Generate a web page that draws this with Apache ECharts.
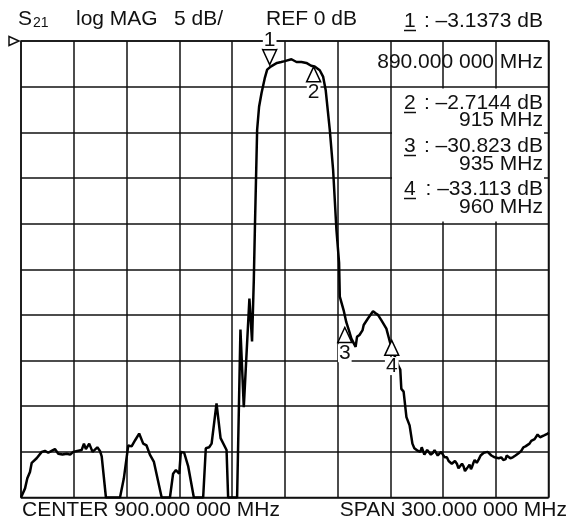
<!DOCTYPE html>
<html>
<head>
<meta charset="utf-8">
<style>
  html, body { margin: 0; padding: 0; background: #fff; }
  #chart { width: 569px; height: 531px; }
</style>
<script src="https://cdn.jsdelivr.net/npm/echarts@6/dist/echarts.min.js"></script>
</head>
<body>
<div id="chart"></div>
<script>
// trace: frequency (MHz) and S21 (dB)
const freqMHz = [
  750, 752.3, 753.6, 755.1, 756.1, 758.9, 761.8, 763.6, 765.5, 767.4, 769.3, 771.2, 773.6, 776.0, 778.0, 779.7,
  782.0, 784.5, 785.8, 786.9, 788.8, 790.7, 793.4, 794.9, 795.9, 798.3, 806.3, 808.5, 811.0, 812.9, 815.0, 817.2,
  819.5, 821.4, 823.3, 825.6, 830.0, 834.7, 836.5, 838.1, 840.0, 840.9, 842.8, 845.1, 848.3, 853.6, 855.1, 857.0,
  858.4, 861.2, 863.5, 864.6, 866.9, 867.8, 872.9, 874.8, 876.7, 879.9, 881.0, 881.4, 882.4, 883.0, 884.3, 885.4,
  886.8, 888.6, 890.0, 892.0, 895.6, 898.0, 900.0, 903.8, 906.7, 909.5, 912.3, 915.0, 917.0, 919.9, 921.8, 923.3,
  925.6, 927.5, 929.4, 930.9, 931.3, 933.5, 935.0, 936.5, 937.9, 940.3, 941.1, 942.5, 944.2, 944.9, 947.3, 950.2,
  951.5, 953.0, 955.0, 957.8, 960.0, 962.5, 964.9, 965.7, 966.3, 967.6, 969.2, 971.0, 972.6, 973.7, 974.8, 975.8,
  977.1, 977.9, 978.6, 979.4, 980.1, 981.0, 982.0, 983.1, 984.3, 985.2, 986.2, 987.0, 987.7, 988.9, 990.0, 991.0,
  992.2, 993.2, 994.2, 995.0, 995.6, 996.8, 997.9, 998.8, 999.8, 1000.8, 1001.7, 1002.5, 1003.2, 1004.0, 1005.1, 1005.9,
  1006.6, 1007.3, 1008.0, 1009.2, 1010.4, 1011.4, 1012.3, 1013.2, 1014.2, 1015.4, 1016.5, 1017.5, 1018.4, 1019.4, 1020.3, 1021.7,
  1023.1, 1024.3, 1025.6, 1026.2, 1026.9, 1028.3, 1029.7, 1031.2, 1032.6, 1033.6, 1034.5, 1035.7, 1036.9, 1038.0, 1039.2, 1040.2,
  1041.1, 1042.1, 1043.0, 1043.8, 1044.5, 1045.2, 1045.9, 1047.5, 1049.6, 1050
]
const s21dB = [
  -50, -49.0, -47.9, -47.2, -46.2, -45.7, -45.0, -44.9, -45.1, -44.9, -44.7, -45.2, -45.3, -45.2, -45.3, -45.0,
  -44.9, -44.8, -44.1, -44.7, -44.1, -45.0, -44.5, -44.9, -45.5, -50, -50, -47.9, -44.3, -44.4, -43.7, -43.0,
  -44.1, -44.3, -45.3, -46.1, -50, -50, -47.4, -47.0, -47.4, -45.0, -45.1, -46.6, -50, -50, -44.6, -44.5,
  -44.1, -39.7, -43.5, -43.6, -44.8, -50, -50, -31.6, -40.1, -28.2, -28.2, -32.9, -26.2, -20.7, -9.7, -7.2,
  -5.7, -4.1, -3.14, -2.8, -2.4, -2.3, -2.2, -2.0, -2.3, -2.3, -2.4, -2.71, -2.8, -3.2, -3.9, -5.4,
  -9.7, -14.1, -20.7, -24.3, -28.0, -29.5, -30.8, -31.7, -32.6, -33.5, -32.4, -32.2, -31.7, -31.1, -30.4, -29.6,
  -29.8, -30.0, -30.6, -31.5, -33.1, -34.5, -35.7, -36.0, -38.1, -38.4, -41.2, -42.1, -44.1, -44.6, -44.4, -44.9,
  -45.0, -44.5, -44.7, -45.3, -45.2, -44.8, -44.9, -45.3, -45.1, -44.8, -44.9, -45.4, -45.2, -45.0, -45.2, -45.6,
  -45.6, -46.0, -45.8, -46.3, -46.2, -46.0, -46.3, -46.8, -46.6, -46.3, -46.6, -47.1, -47.0, -46.7, -46.4, -46.9,
  -46.6, -46.2, -45.9, -46.2, -45.8, -45.4, -45.5, -45.1, -45.3, -45.0, -45.2, -45.4, -45.2, -45.6, -45.5, -45.7,
  -45.6, -45.9, -45.8, -45.4, -45.5, -45.7, -45.6, -45.4, -45.2, -45.0, -44.9, -44.5, -44.4, -44.3, -44.1, -43.8,
  -43.9, -43.6, -43.5, -43.1, -43.2, -43.4, -43.3, -43.2, -43.0, -42.9
]

// markers
const markerFreq = [890, 915, 935, 960]
const markerDb = [-3.1373, -2.7144, -30.823, -33.113]
const markerFreqText = ['890.000 000 MHz', '915 MHz', '935 MHz', '960 MHz']

// header / footer
const headerText = ['log MAG', '5 dB/', 'REF 0 dB']
const footerText = ['CENTER 900.000 000 MHz', 'SPAN 300.000 000 MHz']

const font = "'Liberation Sans', Arial, sans-serif"
const ink = '#111'

const chart = echarts.init(document.getElementById('chart'), null, { renderer: 'canvas' })

const downTri = 'path://M0,0 L14,0 L7,15 Z'
const upTri = 'path://M7,0 L14,15 L0,15 Z'
// small nudges so the triangles sit where the screen draws them
const markerNudge = [[2.5, -12.5], [2.5, 8.5], [-1.5, 12.5], [1.5, 4.5]]

const markerData = markerFreq.map((f, i) => ({
  value: [f, markerDb[i]],
  symbol: i === 0 ? downTri : upTri,
  symbolOffset: markerNudge[i],
  label: {
    position: i === 0 ? 'top' : 'bottom',
    distance: i === 0 ? 0 : 1
  }
}))

const dbText = v => ': \u2013' + Math.abs(v) + ' dB'

const graphics = [
  // white block behind readouts 2..4
  { type: 'rect', z: 1, shape: { x: 392, y: 88.5, width: 152, height: 133 }, style: { fill: '#fff' } },
  // reference level pointer
  { type: 'polygon', z: 10, shape: { points: [[9, 36.5], [19, 41], [9, 45.5]] }, style: { fill: '#fff', stroke: ink, lineWidth: 1.5 } },
  {
    type: 'text', z: 10, x: 18, y: 9,
    style: {
      text: '{s|S}{n|21}',
      rich: {
        s: { fontSize: 21, fontFamily: font, fill: ink, verticalAlign: 'bottom' },
        n: { fontSize: 14, fontFamily: font, fill: ink, verticalAlign: 'bottom', padding: [0, 0, 0, 1] }
      }
    }
  }
]

const headerX = [76, 174, 266]
headerText.forEach((t, i) => {
  graphics.push({
    type: 'text', z: 10, x: headerX[i], y: 19,
    style: { text: t, fontSize: 21, fontFamily: font, fill: ink, verticalAlign: 'middle' }
  })
})

// marker readouts: underlined number on the left, value right aligned
const readY = [[21, 62], [103, 120], [146, 164], [189, 207]]
markerFreq.forEach((f, i) => {
  graphics.push({
    type: 'text', z: 10, x: 404, y: readY[i][0],
    style: { text: String(i + 1), fontSize: 21, fontFamily: font, fill: ink, verticalAlign: 'middle' }
  })
  graphics.push({
    type: 'text', z: 10, x: 543, y: readY[i][0],
    style: { text: dbText(markerDb[i]), fontSize: 21, fontFamily: font, fill: ink, align: 'right', verticalAlign: 'middle' }
  })
  graphics.push({
    type: 'text', z: 10, x: 543, y: readY[i][1],
    style: { text: markerFreqText[i], fontSize: 21, fontFamily: font, fill: ink, align: 'right', verticalAlign: 'middle' }
  })
  graphics.push({
    type: 'line', z: 10,
    shape: { x1: 404, y1: readY[i][0] + 9.5, x2: 416, y2: readY[i][0] + 9.5 },
    style: { stroke: ink, lineWidth: 1.5 }
  })
})

graphics.push({
  type: 'text', z: 10, x: 22, y: 510,
  style: { text: footerText[0], fontSize: 21, fontFamily: font, fill: ink, verticalAlign: 'middle' }
})
graphics.push({
  type: 'text', z: 10, x: 567, y: 510,
  style: { text: footerText[1], fontSize: 21, fontFamily: font, fill: ink, align: 'right', verticalAlign: 'middle' }
})

const option = {
  animation: false,
  backgroundColor: '#fff',
  grid: {
    left: 21, right: 20.5, top: 41, bottom: 33.5,
    show: true, borderColor: ink, borderWidth: 1.5
  },
  xAxis: {
    type: 'value', min: 750, max: 1050, interval: 30,
    axisLine: { show: false }, axisTick: { show: false }, axisLabel: { show: false },
    splitLine: { show: true, lineStyle: { color: ink, width: 1.5 } }
  },
  yAxis: {
    type: 'value', min: -50, max: 0, interval: 5,
    axisLine: { show: false }, axisTick: { show: false }, axisLabel: { show: false },
    splitLine: { show: true, lineStyle: { color: ink, width: 1.5 } }
  },
  series: [
    {
      type: 'line',
      data: freqMHz.map((f, i) => [f, s21dB[i]]),
      showSymbol: false,
      lineStyle: { color: '#000', width: 2.5 },
      z: 3
    },
    {
      type: 'scatter',
      data: markerData,
      symbolSize: [14, 15],
      itemStyle: { color: '#fff', borderColor: '#000', borderWidth: 1.5, opacity: 1 },
      label: {
        show: true,
        formatter: p => String(p.dataIndex + 1),
        fontSize: 21,
        fontFamily: font,
        color: ink,
        backgroundColor: '#fff',
        padding: [0, 1],
        lineHeight: 18
      },
      z: 5
    }
  ],
  graphic: graphics
}

chart.setOption(option)
</script>
</body>
</html>
